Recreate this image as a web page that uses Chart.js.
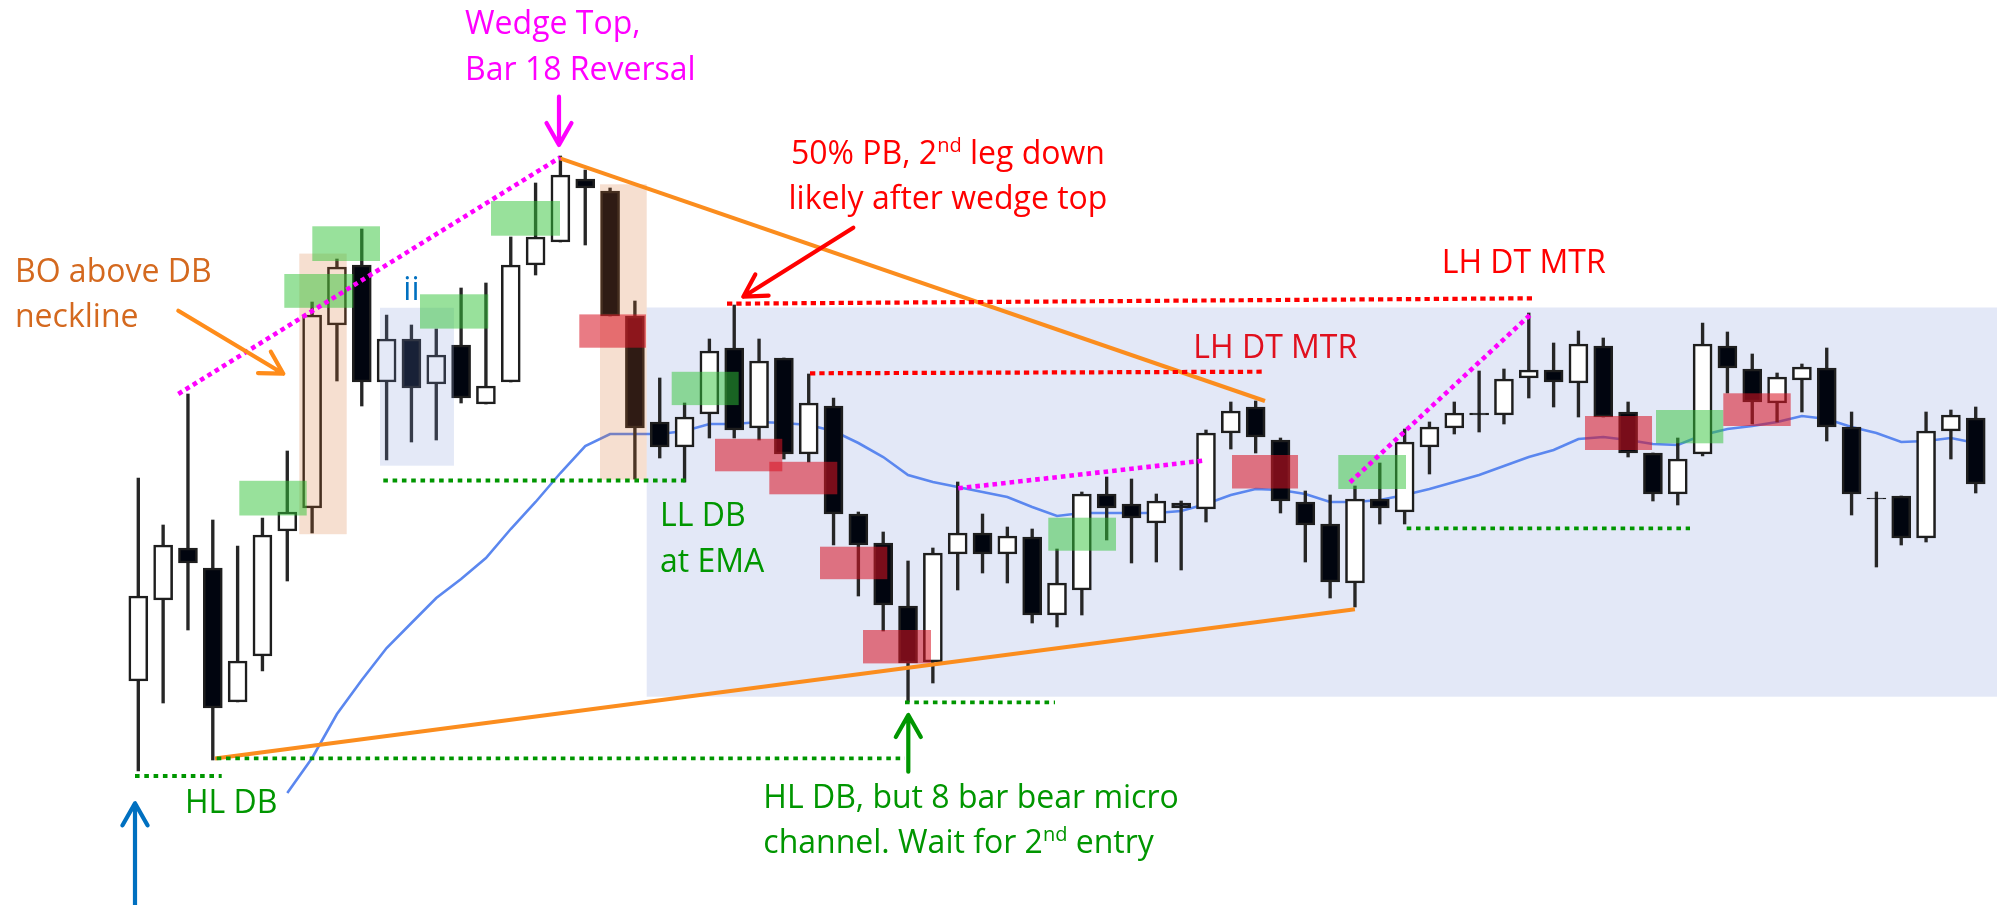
<!DOCTYPE html>
<html><head><meta charset="utf-8">
<script src="https://cdn.jsdelivr.net/npm/chart.js@4.4.1/dist/chart.umd.min.js"></script>
<style>html,body{margin:0;padding:0;background:#fff;overflow:hidden}canvas{display:block}</style>
</head><body>
<canvas id="c" width="1997" height="905"></canvas>
<script>
// ---- price data (bar index = position in arrays) ----
const open  = [224,305,357,337,203,249,374,397,580,640, 523,566,521,560,501,523,640,663,726,714,
               589,483,458,491,557,477,547,451,499,391, 362,299,243,351,372,351,368,290,315,411,
               401,382,402,396,472,498,465,403,381,322, 406,393,458,477,492,490,527,535,522,559,
               493,452,411,451,559,536,502,525,537,478, 407,409,367,474,487];
const high  = [427,380,511,385,359,387,454,603,646,676, 590,580,576,617,622,668,722,749,735,717,
               604,527,502,566,600,566,547,531,507,393, 373,344,357,423,391,378,376,356,413,428,
               426,411,404,475,503,504,467,414,410,419, 442,476,483,503,534,536,592,562,574,567,
               503,452,467,582,573,551,532,541,557,493, 413,409,493,495,498];
const low   = [134,202,275,145,203,234,324,372,524,499, 445,463,465,502,501,523,630,663,660,589,
               426,447,423,467,467,465,446,443,360,309, 274,203,222,315,332,322,282,278,290,365,
               342,343,335,383,456,452,392,343,307,298, 381,381,431,471,473,481,507,498,488,488,
               448,404,400,449,512,481,483,493,464,390, 338,360,363,446,412];
const close = [309,360,342,197,244,370,393,590,638,523, 566,517,550,507,519,640,668,730,717,589,
               477,458,488,554,475,544,451,502,391,360, 300,242,352,372,351,369,290,322,411,397,
               387,404,397,472,494,468,404,380,323,406, 397,463,478,492,490,526,535,523,561,488,
               452,411,446,561,537,503,528,538,478,411, 406,367,474,490,421];
const ema   = [null,null,null,null,null,null,112,147,191,225, 257,282,307,326,347,376,403,432,459,471,
               471,471,474,481,481,483,482,480,474,462, 448,430,423,418,413,408,398,389,392,392,
               392,392,394,401,410,416,415,411,403,403, 405,410,416,423,430,439,448,455,466,468,
               465,461,460,470,476,479,483,489,486,478, 472,463,464,467,462];

// ---- annotations, in (bar index, price) units ----
const region     = [20.475, 75, 597.5, 208.3];
const peachBoxes = [[6.484, 8.393, 651.4, 370.8], [18.594, 20.475, 720.7, 425.3]];
const iiBox      = [9.734, 12.713, 597.2, 439.3];
const greenBoxes = [[4.068,6.782,424.2,389.5],[5.880,8.659,631,597.2],[7.008,9.734,678.7,644],
                    [11.345,14.096,610.7,576.4],[14.205,16.983,704,669.3],[21.482,24.180,533.2,499.9],
                    [36.649,39.376,387.3,354.3],[48.328,51.055,450,416],[61.124,63.834,495,461.7]];
const redBoxes   = [[17.761,20.447,590.6,557.3],[23.226,25.936,466.2,433.7],[25.413,28.151,443.2,410.7],
                    [27.455,30.165,358.3,325.8],[29.187,31.925,275,241.6],[44.048,46.706,450,416.5],
                    [58.264,60.963,489,455],[63.834,66.549,511.7,479]];
const orangeLines  = [[16.983,746.7,45.376,504],[3.089,146.6,48.998,295.7]];
const magentaDots  = [[1.611,511,16.983,747.5],[33.024,416.7,42.891,444.3],[48.800,422.7,56.077,590.7]];
const redDots      = [[23.709,601.3,56.129,606.7],[27.052,531.7,45.376,533.3]];
const greenDots    = [[-0.133,129,3.359,129],[3.157,146.7,30.878,146.7],[9.867,424.5,22.086,424.5],
                      [30.878,202.7,36.919,202.7],[51.083,376.7,62.493,376.7]];
const arrows = [
  {from:[16.943,808.3], to:[16.943,760],  color:'#ff00ff'},
  {from:[28.796,677.3], to:[24.366,608.3], color:'#ff0000'},
  {from:[1.611,594.2],  to:[5.840,531.3], color:'#ff8c1a'},
  {from:[-0.133,-5],    to:[-0.133,101.7], color:'#0070c0'},
  {from:[31.011,133.3], to:[31.011,190],  color:'#009600'}
];
const labels = [
  {x:13.159, y:870.7, parts:['Wedge Top,'], color:'#ff00ff'},
  {x:13.159, y:825,   parts:['Bar 18 Reversal'], color:'#ff00ff'},
  {x:-4.966, y:623.3, parts:['BO above DB'], color:'#d4691f'},
  {x:-4.966, y:578.3, parts:['neckline'], color:'#d4691f'},
  {x:10.673, y:605,   parts:['ii'], color:'#0070c0'},
  {x:32.609, y:741,   parts:['50% PB, 2',{sup:'nd'},' leg down'], color:'#ff0000', center:true},
  {x:32.609, y:695.7, parts:['likely after wedge top'], color:'#ff0000', center:true},
  {x:52.494, y:632.3, parts:['LH DT MTR'], color:'#ff0000'},
  {x:42.489, y:546.7, parts:['LH DT MTR'], color:'#e0101e'},
  {x:21.011, y:378.6, parts:['LL DB'], color:'#009600'},
  {x:21.011, y:333.4, parts:['at EMA'], color:'#009600'},
  {x:1.881,  y:91.7,  parts:['HL DB'], color:'#009600'},
  {x:25.171, y:96.7,  parts:['HL DB, but 8 bar bear micro'], color:'#009600'},
  {x:25.171, y:51.7,  parts:['channel. Wait for 2',{sup:'nd'},' entry'], color:'#009600'}
];

const FONT = '"Open Sans", "Noto Sans", sans-serif';

function rect(ch, b, fill){
  const c = ch.ctx, X = ch.scales.x, Y = ch.scales.y;
  const x0 = X.getPixelForValue(b[0]), x1 = X.getPixelForValue(b[1]);
  const y0 = Y.getPixelForValue(b[2]), y1 = Y.getPixelForValue(b[3]);
  c.fillStyle = fill; c.fillRect(x0, y0, x1 - x0, y1 - y0);
}
function seg(ch, l, color, w, dash){
  const c = ch.ctx, X = ch.scales.x, Y = ch.scales.y;
  c.save(); c.strokeStyle = color; c.lineWidth = w; c.setLineDash(dash || []); c.lineCap = 'butt';
  c.beginPath(); c.moveTo(X.getPixelForValue(l[0]), Y.getPixelForValue(l[1]));
  c.lineTo(X.getPixelForValue(l[2]), Y.getPixelForValue(l[3])); c.stroke(); c.restore();
}
function arrow(ch, a){
  const c = ch.ctx, X = ch.scales.x, Y = ch.scales.y;
  const x0 = X.getPixelForValue(a.from[0]), y0 = Y.getPixelForValue(a.from[1]);
  const x1 = X.getPixelForValue(a.to[0]),   y1 = Y.getPixelForValue(a.to[1]);
  const ang = Math.atan2(y1 - y0, x1 - x0), L = 22, H = 12.5;
  const bx = x1 - L*Math.cos(ang), by = y1 - L*Math.sin(ang);
  const nx = -Math.sin(ang)*H, ny = Math.cos(ang)*H;
  c.save(); c.strokeStyle = a.color; c.lineWidth = 4.2; c.lineCap = 'round'; c.lineJoin = 'round';
  c.beginPath(); c.moveTo(x0, y0); c.lineTo(x1, y1);
  c.moveTo(bx + nx, by + ny); c.lineTo(x1, y1); c.lineTo(bx - nx, by - ny); c.stroke(); c.restore();
}
function label(ch, t){
  const c = ch.ctx, X = ch.scales.x, Y = ch.scales.y;
  const big = '32px ' + FONT, small = '20px ' + FONT;
  c.save(); c.fillStyle = t.color; c.textBaseline = 'alphabetic'; c.textAlign = 'left';
  let w = 0;
  t.parts.forEach(p => { c.font = typeof p === 'string' ? big : small; w += c.measureText(typeof p === 'string' ? p : p.sup).width; });
  let x = X.getPixelForValue(t.x); const y = Y.getPixelForValue(t.y);
  if (t.center) x -= w/2;
  t.parts.forEach(p => {
    if (typeof p === 'string'){ c.font = big; c.fillText(p, x, y); x += c.measureText(p).width; }
    else { c.font = small; c.fillText(p.sup, x, y - 12); x += c.measureText(p.sup).width; }
  });
  c.restore();
}

const annotate = {
  id:'annotate',
  beforeDatasetsDraw(ch){ rect(ch, region, '#e3e8f7'); },
  afterDatasetsDraw(ch){
    peachBoxes.forEach(b => rect(ch, b, 'rgba(215,110,40,0.22)'));
    rect(ch, iiBox, 'rgba(120,145,215,0.2)');
    greenBoxes.forEach(b => rect(ch, b, 'rgba(50,195,55,0.5)'));
    redBoxes.forEach(b => rect(ch, b, 'rgba(215,20,35,0.56)'));
    orangeLines.forEach(l => seg(ch, l, '#fb8d1e', 4));
    magentaDots.forEach(l => seg(ch, l, '#ff00ff', 4.6, [4.6, 4]));
    redDots.forEach(l => seg(ch, l, '#ff0000', 4.2, [5.3, 4]));
    greenDots.forEach(l => seg(ch, l, '#009600', 3.8, [4.6, 4.7]));
    arrows.forEach(a => arrow(ch, a));
    labels.forEach(t => label(ch, t));
  }
};

function build(){
  const idx = open.map((_, i) => i);
  const wicks  = idx.map(i => ({x:i, y:[low[i], high[i]]}));
  const bodies = idx.map(i => ({x:i, y:[open[i], close[i]]}));
  const fills  = idx.map(i => close[i] >= open[i] ? '#ffffff' : '#01050f');
  const emaPts = idx.filter(i => ema[i] !== null).map(i => ({x:i, y:ema[i]}));
  new Chart(document.getElementById('c'), {
    type:'bar',
    data:{datasets:[
      {type:'line', data:emaPts, borderColor:'#5b87ef', borderWidth:2.6, pointRadius:0, tension:0, fill:false, order:3},
      {type:'bar', data:wicks, backgroundColor:'#262626', borderWidth:0, barThickness:2.7, grouped:false, order:2},
      {type:'bar', data:bodies, backgroundColor:fills, borderColor:'#1e1e1e', borderWidth:2.6,
       borderSkipped:false, barThickness:19, grouped:false, order:1}
    ]},
    options:{
      responsive:false, animation:false, devicePixelRatio:1, layout:{padding:0},
      plugins:{legend:{display:false}, tooltip:{enabled:false}},
      scales:{
        x:{type:'linear', min:-5.57, max:74.857, display:false, offset:false, grid:{display:false}},
        y:{type:'linear', min:0, max:905, display:false}
      }
    },
    plugins:[annotate]
  });
}
Promise.all([document.fonts.load('32px "Open Sans"'), document.fonts.load('20px "Open Sans"')])
  .catch(() => {}).then(build);
</script>
</body></html>
